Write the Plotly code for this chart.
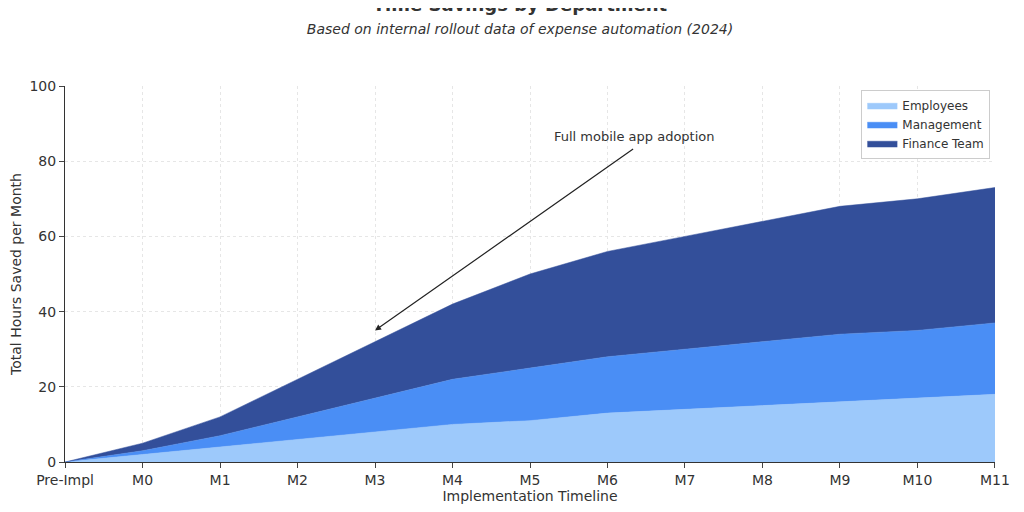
import plotly.graph_objects as go

months = ["Pre-Impl","M0","M1","M2","M3","M4","M5","M6","M7","M8","M9","M10","M11","M12"]
employees = [0,2,4,6,8,10,11,13,14,15,16,17,18,19]
management = [0,1,3,6,9,12,14,15,16,17,18,18,19,19]
finance = [0,2,5,10,15,20,25,28,30,32,34,35,36,36]

fig = go.Figure()
for name, vals, col in [("Employees", employees, "#9dc9fb"),
                        ("Management", management, "#4a8ef5"),
                        ("Finance Team", finance, "#334f9a")]:
    fig.add_trace(go.Scatter(x=months, y=vals, name=name, stackgroup="one", mode="lines",
                             line=dict(width=0.5, color=col), fillcolor=col))

fig.add_annotation(x=4, y=35, ax=7.35, ay=83.5, xref="x", yref="y", axref="x", ayref="y",
                   showarrow=True, arrowhead=2, arrowsize=1, arrowwidth=1.2, arrowcolor="#222", text="")
fig.add_annotation(x=7.35, y=84, xref="x", yref="y", text="Full mobile app adoption",
                   showarrow=False, yanchor="bottom", font=dict(size=13, color="#333"))

fig.update_layout(
    width=1024, height=512, plot_bgcolor="white", paper_bgcolor="white",
    font=dict(family="DejaVu Sans", color="#333"),
    title=dict(text="<b>Time Savings by Department</b><br><span style='font-size:14px'><i>Based on internal rollout data of expense automation (2024)</i></span>",
               x=0.5, y=0.995, yanchor="top", font=dict(size=18)),
    margin=dict(l=57, r=37, t=78, b=58),
    legend=dict(x=0.995, y=0.99, xanchor="right", yanchor="top", bordercolor="#ccc", borderwidth=1,
                font=dict(size=12), traceorder="normal", bgcolor="white"),
    xaxis=dict(title=dict(text="Implementation Timeline", standoff=2, font=dict(size=14)), range=[0,12], showline=True,
               linecolor="#333", showgrid=True, gridcolor="#e6e6e6", griddash="dot", ticks="outside",
               tickfont=dict(size=14), automargin=False),
    yaxis=dict(title=dict(text="Total Hours Saved per Month", font=dict(size=14)), range=[0,100], dtick=20, showline=True, linecolor="#333",
               showgrid=True, gridcolor="#e6e6e6", griddash="dot", ticks="outside", tickfont=dict(size=14), automargin=False),
)
fig.update_xaxes(range=[-0.001, 12.001])
fig.write_html("out.html")
